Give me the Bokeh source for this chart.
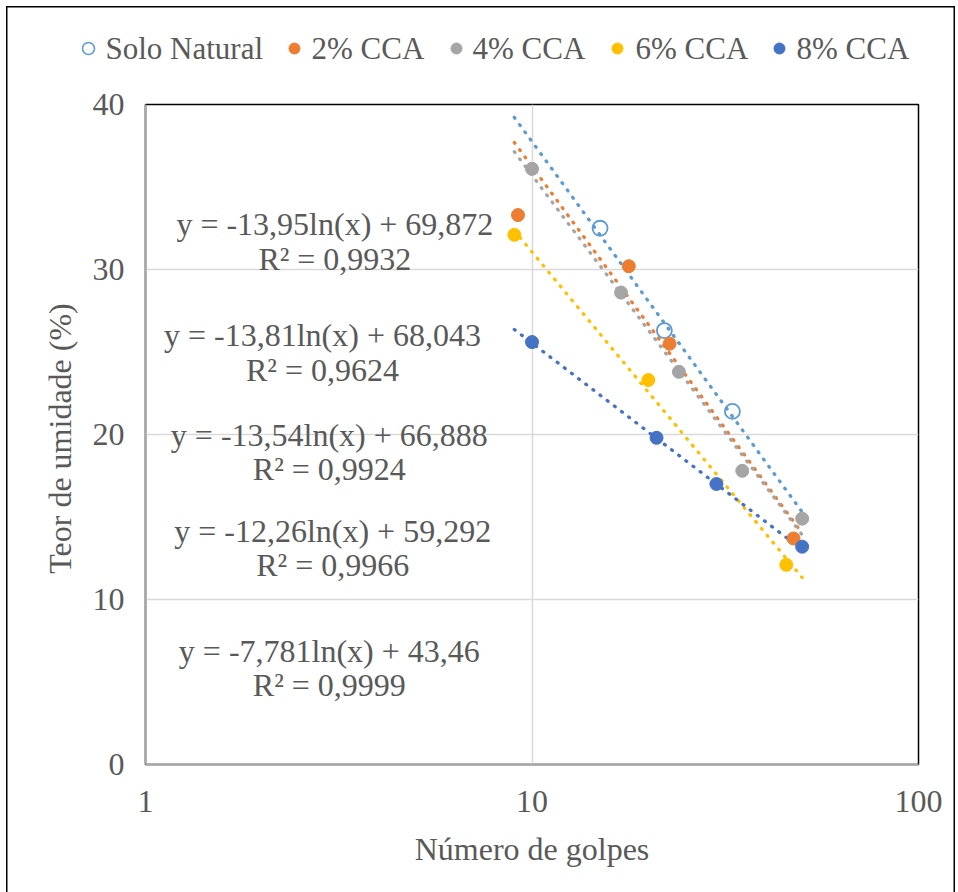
from bokeh.plotting import figure
from bokeh.layouts import column
from bokeh.models import (FixedTicker, BasicTickFormatter, ColumnDataSource, Range1d)
from bokeh.core.properties import value
from bokeh.embed import file_html
from bokeh.resources import INLINE
import math

# ---- data ----
series_names = ["Solo Natural", "2% CCA", "4% CCA", "6% CCA", "8% CCA"]
solo_x = [15, 22, 33]
solo_y = [32.5, 26.3, 21.4]
cca2_x = [9.2, 17.8, 22.7, 47.5]
cca2_y = [33.3, 30.2, 25.5, 13.7]
cca4_x = [10, 17, 24, 35, 50]
cca4_y = [36.1, 28.6, 23.8, 17.8, 14.9]
cca6_x = [9, 20, 45.5]
cca6_y = [32.1, 23.3, 12.1]
cca8_x = [10, 21, 30, 50]
cca8_y = [25.6, 19.8, 17.0, 13.2]

# trendline coefficients y = a*ln(x) + b, drawn over x in [9, 50]
trend_a = [-13.95, -13.81, -13.54, -12.26, -7.781]
trend_b = [69.872, 68.043, 66.888, 59.292, 43.46]
trend_x = [9, 50]

eq_labels = ["y = -13,95ln(x) + 69,872\nR² = 0,9932",
             "y = -13,81ln(x) + 68,043\nR² = 0,9624",
             "y = -13,54ln(x) + 66,888\nR² = 0,9924",
             "y = -12,26ln(x) + 59,292\nR² = 0,9966",
             "y = -7,781ln(x) + 43,46\nR² = 0,9999"]
eq_x = [3.09, 2.87, 2.99, 3.05, 2.99]
eq_y = [31.7, 24.97, 18.92, 13.1, 5.86]

x_ticks = [1, 10, 100]
y_ticks = [0, 10, 20, 30, 40]

colors = ["#5B9BD5", "#ED7D31", "#A5A5A5", "#FFC000", "#4472C4"]
FONT = "Liberation Serif"
FS = "32px"
TXT = "#595959"

W = 958
H_LEG = 80
H_MAIN = 812

# ---------- main plot ----------
p = figure(width=W, height=H_MAIN, x_axis_type="log",
           x_range=Range1d(1, 100), y_range=Range1d(0, 40),
           output_backend="svg", toolbar_location=None,
           min_border_left=145, min_border_right=40,
           min_border_top=24, min_border_bottom=128)
p.frame_align = False

p.outline_line_color = "#000000"
p.outline_line_width = 1.5
p.background_fill_color = "white"
p.border_fill_color = None
p.styles = {"box-shadow": "inset 6px 0 0 0 #fff, inset -3px 0 0 0 #fff, "
                          "inset 7.5px 0 0 0 #000, inset -4.5px 0 0 0 #000"}

p.xgrid.ticker = FixedTicker(ticks=x_ticks)
p.ygrid.ticker = FixedTicker(ticks=y_ticks)
for g in (p.xgrid, p.ygrid):
    g.grid_line_color = "#D9D9D9"
    g.grid_line_width = 1.5
p.xgrid.minor_grid_line_color = None

p.xaxis.ticker = FixedTicker(ticks=x_ticks, minor_ticks=[])
p.xaxis.formatter = BasicTickFormatter()
p.yaxis.ticker = FixedTicker(ticks=y_ticks, minor_ticks=[])
for ax in (p.xaxis, p.yaxis):
    ax.axis_line_color = "#A6A6A6"
    ax.axis_line_width = 2
    ax.major_tick_line_color = None
    ax.minor_tick_line_color = None
    ax.major_label_text_font = FONT
    ax.major_label_text_font_size = FS
    ax.major_label_text_color = TXT
    ax.axis_label_text_font = FONT
    ax.axis_label_text_font_size = FS
    ax.axis_label_text_color = TXT
    ax.axis_label_text_font_style = "normal"
p.xaxis.axis_label = "Número de golpes"
p.yaxis.axis_label = "Teor de umidade  (%)"
p.xaxis.major_label_standoff = 20
p.xaxis.axis_label_standoff = 16
p.yaxis.major_label_standoff = 15
p.yaxis.axis_label_standoff = 12

for a, b, c in zip(trend_a, trend_b, colors):
    ty = [a * math.log(v) + b for v in trend_x]
    p.line(trend_x, ty, line_color=c, line_width=3.3, line_dash="1 8",
           line_cap="round")

xs = [solo_x, cca2_x, cca4_x, cca6_x, cca8_x]
ys = [solo_y, cca2_y, cca4_y, cca6_y, cca8_y]
for i, (x, y, c) in enumerate(zip(xs, ys, colors)):
    if i == 0:
        p.scatter(x, y, size=15, fill_color="white", fill_alpha=0,
                  line_color=c, line_width=1.8)
    else:
        p.scatter(x, y, size=13, fill_color=c, line_color=c)

src = ColumnDataSource(dict(x=eq_x, y=eq_y, t=eq_labels))
p.text(x="x", y="y", text="t", source=src, text_font=value(FONT),
       text_font_size=FS, text_color=TXT, text_align="center",
       text_baseline="middle", text_line_height=0.95)

# ---------- legend strip (pixel coordinates of the strip) ----------
leg_marker_x = [88, 294, 456, 617, 779]
leg_text_x = [105, 311, 472, 635, 796]
leg_y = 48

lg = figure(width=W, height=H_LEG, x_range=Range1d(0, W), y_range=Range1d(H_LEG, 0),
            output_backend="svg", toolbar_location=None,
            x_axis_location=None, y_axis_location=None, min_border=0)
lg.frame_align = False
lg.outline_line_color = None
lg.grid.visible = False
lg.background_fill_color = None
lg.border_fill_color = None
lg.styles = {"box-shadow": "inset 0 6px 0 0 #fff, inset 6px 0 0 0 #fff, "
                           "inset -3px 0 0 0 #fff, inset 0 7.5px 0 0 #000, "
                           "inset 7.5px 0 0 0 #000, inset -4.5px 0 0 0 #000"}
for i, (mx, c) in enumerate(zip(leg_marker_x, colors)):
    if i == 0:
        lg.scatter([mx], [leg_y], size=12, fill_color="white",
                   line_color=c, line_width=1.6)
    else:
        lg.scatter([mx], [leg_y], size=11, fill_color=c, line_color=c)
lsrc = ColumnDataSource(dict(x=leg_text_x, y=[leg_y] * len(leg_text_x),
                             t=series_names))
lg.text(x="x", y="y", text="t", source=lsrc, text_font=value(FONT),
        text_font_size="31px", text_color=TXT, text_align="left",
        text_baseline="middle")

layout = column(lg, p, spacing=0)

open("out.html", "w").write(file_html(layout, INLINE))
